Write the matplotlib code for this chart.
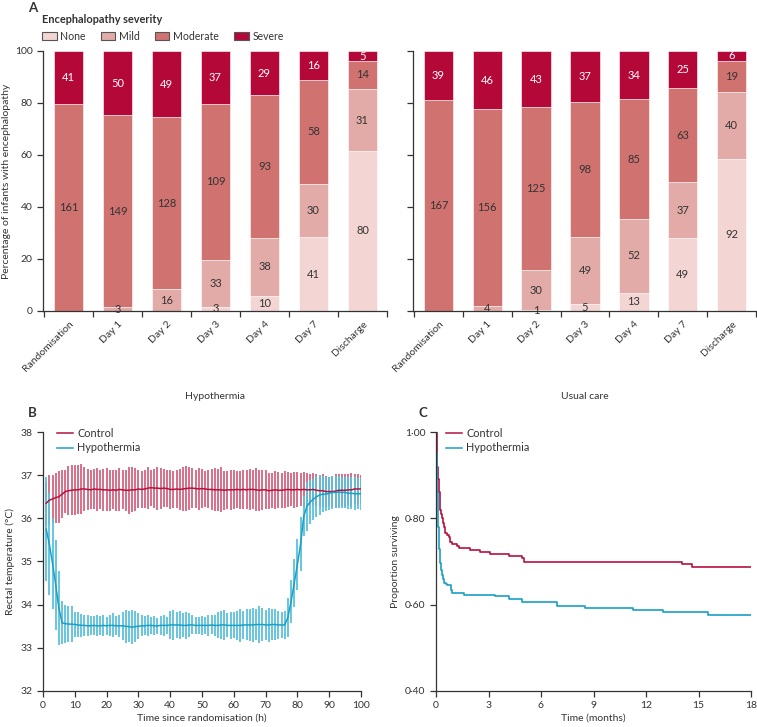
import numpy as np
import matplotlib
matplotlib.use('Agg')
import matplotlib.pyplot as plt
from matplotlib.patches import Patch
from matplotlib.lines import Line2D

plt.rcParams['font.family'] = ['Lato', 'DejaVu Sans']
plt.rcParams['font.size'] = 7.5

# ---- panel A data (counts) ----
stages = ['Randomisation', 'Day 1', 'Day 2', 'Day 3', 'Day 4', 'Day 7', 'Discharge']
severity = ['None', 'Mild', 'Moderate', 'Severe']
hypo_none = [0, 0, 0, 3, 10, 41, 80]
hypo_mild = [0, 3, 16, 33, 38, 30, 31]
hypo_moderate = [161, 149, 128, 109, 93, 58, 14]
hypo_severe = [41, 50, 49, 37, 29, 16, 5]
usual_none = [0, 0, 1, 5, 13, 49, 92]
usual_mild = [0, 4, 30, 49, 52, 37, 40]
usual_moderate = [167, 156, 125, 98, 85, 63, 19]
usual_severe = [39, 46, 43, 37, 34, 25, 6]
pct_ticks = [0, 20, 40, 60, 80, 100]

# ---- panel B data (rectal temperature, hourly) ----
hours = np.arange(1, 101)
control_mean = [36.35, 36.42, 36.45, 36.48, 36.50, 36.56, 36.62, 36.64, 36.65, 36.66,
                36.66, 36.68, 36.68, 36.67, 36.66, 36.68, 36.67, 36.67, 36.66, 36.66,
                36.65, 36.66, 36.65, 36.67, 36.66, 36.65, 36.65, 36.66, 36.66, 36.68,
                36.67, 36.68, 36.70, 36.71, 36.70, 36.70, 36.69, 36.70, 36.69, 36.67,
                36.67, 36.68, 36.67, 36.68, 36.69, 36.70, 36.70, 36.69, 36.68, 36.69,
                36.68, 36.67, 36.67, 36.66, 36.66, 36.66, 36.65, 36.66, 36.66, 36.66,
                36.67, 36.66, 36.67, 36.66, 36.67, 36.67, 36.66, 36.65, 36.66, 36.66,
                36.64, 36.65, 36.66, 36.65, 36.65, 36.66, 36.67, 36.66, 36.66, 36.67,
                36.66, 36.67, 36.66, 36.66, 36.67, 36.65, 36.64, 36.64, 36.62, 36.62,
                36.62, 36.63, 36.65, 36.65, 36.65, 36.66, 36.66, 36.68, 36.68, 36.68]
control_sd = [0.50, 0.58, 0.55, 0.58, 0.60, 0.55, 0.50, 0.57, 0.58, 0.58,
              0.57, 0.57, 0.50, 0.48, 0.45, 0.47, 0.50, 0.45, 0.48, 0.50,
              0.47, 0.45, 0.48, 0.50, 0.45, 0.48, 0.55, 0.52, 0.50, 0.45,
              0.42, 0.45, 0.48, 0.42, 0.45, 0.50, 0.47, 0.44, 0.42, 0.46,
              0.43, 0.45, 0.48, 0.50, 0.52, 0.50, 0.47, 0.44, 0.48, 0.45,
              0.42, 0.44, 0.47, 0.50, 0.48, 0.52, 0.45, 0.44, 0.47, 0.45,
              0.42, 0.44, 0.46, 0.45, 0.47, 0.45, 0.50, 0.48, 0.46, 0.45,
              0.42, 0.40, 0.44, 0.42, 0.40, 0.43, 0.40, 0.38, 0.42, 0.40,
              0.38, 0.40, 0.38, 0.36, 0.38, 0.37, 0.36, 0.38, 0.35, 0.33,
              0.36, 0.40, 0.38, 0.37, 0.38, 0.36, 0.38, 0.35, 0.34, 0.32]
hypo_mean = [35.75, 35.40, 34.95, 34.46, 33.92, 33.58, 33.56, 33.55, 33.55, 33.54,
             33.53, 33.52, 33.52, 33.51, 33.51, 33.52, 33.51, 33.51, 33.52, 33.51,
             33.52, 33.52, 33.51, 33.51, 33.51, 33.50, 33.49, 33.48, 33.49, 33.50,
             33.51, 33.51, 33.52, 33.52, 33.51, 33.51, 33.52, 33.52, 33.52, 33.53,
             33.53, 33.53, 33.53, 33.52, 33.52, 33.53, 33.53, 33.52, 33.52, 33.52,
             33.52, 33.52, 33.53, 33.52, 33.52, 33.53, 33.53, 33.52, 33.52, 33.52,
             33.52, 33.52, 33.53, 33.53, 33.53, 33.53, 33.54, 33.54, 33.54, 33.53,
             33.53, 33.54, 33.54, 33.53, 33.53, 33.53, 33.70, 34.07, 34.50, 34.93,
             35.40, 36.05, 36.28, 36.38, 36.44, 36.50, 36.54, 36.56, 36.56, 36.58,
             36.60, 36.60, 36.61, 36.60, 36.60, 36.58, 36.58, 36.57, 36.57, 36.57]
hypo_sd = [1.20, 1.18, 1.06, 1.04, 0.85, 0.50, 0.44, 0.42, 0.42, 0.30,
           0.29, 0.26, 0.25, 0.24, 0.22, 0.22, 0.24, 0.22, 0.25, 0.21,
           0.24, 0.28, 0.22, 0.26, 0.33, 0.38, 0.36, 0.40, 0.36, 0.30,
           0.24, 0.22, 0.25, 0.20, 0.22, 0.19, 0.22, 0.24, 0.20, 0.33,
           0.35, 0.30, 0.33, 0.28, 0.32, 0.27, 0.22, 0.20, 0.19, 0.22,
           0.20, 0.24, 0.22, 0.25, 0.30, 0.32, 0.34, 0.28, 0.32, 0.30,
           0.34, 0.38, 0.32, 0.36, 0.38, 0.40, 0.37, 0.42, 0.38, 0.35,
           0.40, 0.37, 0.36, 0.33, 0.30, 0.33, 0.46, 0.50, 0.55, 0.60,
           0.62, 0.46, 0.57, 0.50, 0.48, 0.48, 0.46, 0.42, 0.40, 0.38,
           0.38, 0.37, 0.37, 0.36, 0.36, 0.37, 0.37, 0.38, 0.36, 0.37]
temp_ticks = [32, 33, 34, 35, 36, 37, 38]
hour_ticks = [0, 10, 20, 30, 40, 50, 60, 70, 80, 90, 100]

# ---- panel C data (Kaplan-Meier) ----
km_control_t = [0, 0.03, 0.06, 0.10, 0.15, 0.20, 0.25, 0.30, 0.34, 0.40, 0.44, 0.50, 0.53,
                0.62, 0.72, 0.82, 0.91, 1.20, 1.29, 1.96, 2.53, 3.10, 4.15, 4.90, 5.04,
                14.04, 14.61, 18]
km_control_s = [1.0, 0.95, 0.92, 0.89, 0.86, 0.84, 0.82, 0.81, 0.80, 0.79, 0.78, 0.77, 0.765,
                0.762, 0.757, 0.745, 0.741, 0.736, 0.731, 0.727, 0.722, 0.717, 0.712, 0.707,
                0.698, 0.694, 0.688, 0.688]
km_hypo_t = [0, 0.02, 0.04, 0.06, 0.09, 0.12, 0.15, 0.18, 0.22, 0.25, 0.30, 0.34, 0.40, 0.44,
             0.55, 0.63, 0.86, 0.91, 1.58, 3.39, 4.15, 4.90, 6.90, 8.52, 11.24, 12.96, 15.56, 18]
km_hypo_s = [1.0, 0.95, 0.90, 0.86, 0.82, 0.78, 0.75, 0.73, 0.71, 0.696, 0.68, 0.669, 0.66,
             0.65, 0.648, 0.645, 0.635, 0.628, 0.623, 0.619, 0.614, 0.607, 0.598, 0.592,
             0.587, 0.582, 0.577, 0.577]
surv_ticks = [0.40, 0.60, 0.80, 1.00]
surv_labels = ['0·40', '0·60', '0·80', '1·00']
month_ticks = [0, 3, 6, 9, 12, 15, 18]

sev_colors = ['#f3d5d3', '#e3aba7', '#d07270', '#b40838']
red = '#b5123e'
red_bar = '#d66580'
blue = '#1a9fc6'
blue_bar = '#5cc0dc'
dark = '#333333'


def style_axis(ax):
    for s in ['top', 'right']:
        ax.spines[s].set_visible(False)
    for s in ['left', 'bottom']:
        ax.spines[s].set_color(dark)
        ax.spines[s].set_linewidth(0.9)
    ax.tick_params(direction='out', length=4, width=0.9, color=dark, labelcolor=dark,
                   labelsize=7.5)


fig = plt.figure(figsize=(7.57, 7.27), dpi=100)

def draw_bars(ax, groups, subtitle, show_labels):
    x = np.arange(len(stages))
    counts = np.array(groups, dtype=float)
    totals = counts.sum(axis=0)
    pct = counts / totals * 100
    bottom = np.zeros(len(stages))
    for k in range(len(severity)):
        ax.bar(x, pct[k], 0.6, bottom=bottom, color=sev_colors[k],
               edgecolor='white', linewidth=0.4)
        for i in range(len(stages)):
            if counts[k, i] > 0:
                ax.text(x[i], bottom[i] + pct[k, i] / 2, str(int(counts[k, i])),
                        ha='center', va='center', fontsize=8,
                        color='white' if k == 3 else dark)
        bottom += pct[k]
    ax.set_xlim(-0.52, 6.5)
    ax.set_ylim(0, 100)
    style_axis(ax)
    ax.set_yticks(pct_ticks)
    if not show_labels:
        ax.set_yticklabels([])
    ax.set_xticks(np.arange(-0.5, 7.0, 1.0))
    ax.set_xticklabels([])
    ax.set_xticks(x, minor=True)
    ax.set_xticklabels(stages, minor=True, rotation=45, ha='right',
                       rotation_mode='anchor', fontsize=7.5, color=dark)
    ax.tick_params(axis='x', which='minor', length=0, pad=6)
    ax.set_xlabel(subtitle, fontsize=7.5, color=dark, labelpad=13)


axA1 = fig.add_axes([43 / 757, 1 - 311 / 727, 344 / 757, 260 / 727])
draw_bars(axA1, [hypo_none, hypo_mild, hypo_moderate, hypo_severe], 'Hypothermia', True)
axA1.set_ylabel('Percentage of infants with encephalopathy', fontsize=7.5, color=dark,
                labelpad=3)

axA2 = fig.add_axes([413 / 757, 1 - 311 / 727, 343 / 757, 260 / 727])
draw_bars(axA2, [usual_none, usual_mild, usual_moderate, usual_severe], 'Usual care', False)

handles = [Patch(facecolor=c, edgecolor='#555555', linewidth=0.8) for c in sev_colors]
leg = fig.legend(handles, severity, loc='upper left', bbox_to_anchor=(36 / 757, 1 - 8 / 727),
                 ncol=4, frameon=False, title='Encephalopathy severity',
                 title_fontproperties={'weight': 'bold', 'size': 7.9},
                 fontsize=7.6, handlelength=1.35, handleheight=0.85, columnspacing=1.45,
                 handletextpad=0.35, alignment='left', borderaxespad=0.2)
for t in leg.get_texts():
    t.set_color(dark)
leg.get_title().set_color(dark)
fig.text(28 / 757, 1 - 8 / 727, 'A', fontsize=9.5, fontweight='bold', color=dark,
         va='center')

# ---- panel B ----
axB = fig.add_axes([43 / 757, 1 - 691 / 727, 318 / 757, 259 / 727])
axB.errorbar(hours, control_mean, yerr=control_sd, fmt='none', ecolor=red_bar,
             elinewidth=1.3, capsize=0)
axB.errorbar(hours, hypo_mean, yerr=hypo_sd, fmt='none', ecolor=blue_bar,
             elinewidth=1.3, capsize=0)
axB.plot(hours, control_mean, color=red, lw=1.1)
axB.plot(hours, hypo_mean, color=blue, lw=1.1)
axB.set_xlim(0, 100)
axB.set_ylim(32, 38)
axB.set_xticks(hour_ticks)
axB.set_yticks(temp_ticks)
style_axis(axB)
axB.set_xlabel('Time since randomisation (h)', fontsize=7.5, color=dark, labelpad=2)
axB.set_ylabel('Rectal temperature (°C)', fontsize=7.5, color=dark, labelpad=4)
axB.legend([Line2D([], [], color=red, lw=1.1), Line2D([], [], color=blue, lw=1.1)],
           ['Control', 'Hypothermia'], loc='upper left', bbox_to_anchor=(0.013, 1.055),
           frameon=False, fontsize=7.8, handlelength=1.5, labelspacing=0.35,
           handletextpad=0.4, labelcolor=dark)
fig.text(32 / 757, 1 - 413 / 727, 'B', fontsize=9.5, fontweight='bold', color=dark,
         ha='center', va='center')

# ---- panel C ----
axC = fig.add_axes([436 / 757, 1 - 691 / 727, 315 / 757, 259 / 727])
axC.step(km_control_t, km_control_s, where='post', color=red, lw=1.2)
axC.step(km_hypo_t, km_hypo_s, where='post', color=blue, lw=1.2)
axC.set_xlim(0, 18)
axC.set_ylim(0.40, 1.00)
axC.set_xticks(month_ticks)
axC.set_yticks(surv_ticks)
axC.set_yticklabels(surv_labels)
style_axis(axC)
axC.set_xlabel('Time (months)', fontsize=7.5, color=dark, labelpad=2)
axC.set_ylabel('Proportion surviving', fontsize=7.5, color=dark, labelpad=4)
axC.legend([Line2D([], [], color=red, lw=1.1), Line2D([], [], color=blue, lw=1.1)],
           ['Control', 'Hypothermia'], loc='upper left', bbox_to_anchor=(0.0, 1.055),
           frameon=False, fontsize=7.8, handlelength=1.5, labelspacing=0.35,
           handletextpad=0.4, labelcolor=dark)
fig.text(423 / 757, 1 - 413 / 727, 'C', fontsize=9.5, fontweight='bold', color=dark,
         ha='center', va='center')

fig.savefig('out.png', dpi=100)
